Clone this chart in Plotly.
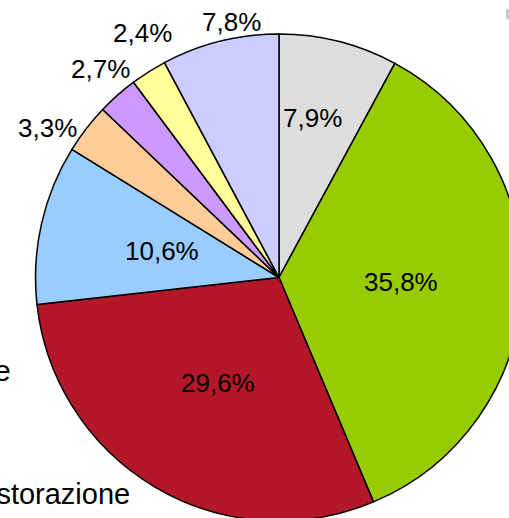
import math
import plotly.graph_objects as go

categories = ["Cat. 1", "Cat. 2", "Cat. 3", "Cat. 4", "Cat. 5", "Cat. 6", "Cat. 7", "Cat. 8"]
values = [7.9, 35.8, 29.6, 10.6, 3.3, 2.7, 2.4, 7.8]
colors = ["#DDDDDD", "#99CC00", "#B41828", "#99CCFF", "#FFCC99", "#CC99FF", "#FFFF99", "#CCCCFF"]
legend_texts = ["e", "Ristorazione"]

# label placement style: radius as fraction of pie radius, angular nudge (deg)
label_rad = [0.668, 0.50, 0.50, 0.49, 1.131, 1.127, 1.148, 1.066]
label_dang = [-2.5, -0.8, -0.2, 0.2, -4.7, 1.1, 3.2, 3.5]

W, H = 560, 560
L, T, S = 35, 33.5, 488  # plot-area left/top and side (px)
FONT = "Liberation Sans, Arial"

fig = go.Figure(go.Pie(
    labels=categories, values=values, sort=False, direction="clockwise", rotation=0,
    marker=dict(colors=colors, line=dict(color="black", width=1.5)),
    textinfo="none", showlegend=False, hoverinfo="none",
    domain=dict(x=[0, 1], y=[0, 1]),
))

total = sum(values)
annotations = []
cum = 0.0
for v, rf, da in zip(values, label_rad, label_dang):
    mid = (cum + v / 2) / total * 360 + da
    cum += v
    th = math.radians(mid)
    x = 0.5 + 0.5 * rf * math.sin(th)
    y = 0.5 + 0.5 * rf * math.cos(th)
    annotations.append(dict(
        text=f"{v:.1f}%".replace(".", ","), xref="paper", yref="paper", x=x, y=y,
        xanchor="center", yanchor="middle", showarrow=False,
        font=dict(family=FONT, size=26, color="black"),
    ))

annotations += [
    dict(text=legend_texts[0], xref="paper", yref="paper", x=(13 - L) / S, y=1 - (371 - T) / S,
         xanchor="right", yanchor="middle", showarrow=False, font=dict(family=FONT, size=30, color="black")),
    dict(text=legend_texts[1], xref="paper", yref="paper", x=(132 - L) / S, y=1 - (494 - T) / S,
         xanchor="right", yanchor="middle", showarrow=False, font=dict(family=FONT, size=29, color="black")),
]

fig.update_layout(
    width=W, height=H,
    margin=dict(l=L, r=W - L - S, t=T, b=H - T - S),
    paper_bgcolor="white",
    font=dict(family=FONT, size=26, color="black"),
    annotations=annotations,
)
fig.write_html("out.html", post_script="document.documentElement.style.overflow='hidden';document.body.style.overflow='hidden';document.body.style.margin='0';")
